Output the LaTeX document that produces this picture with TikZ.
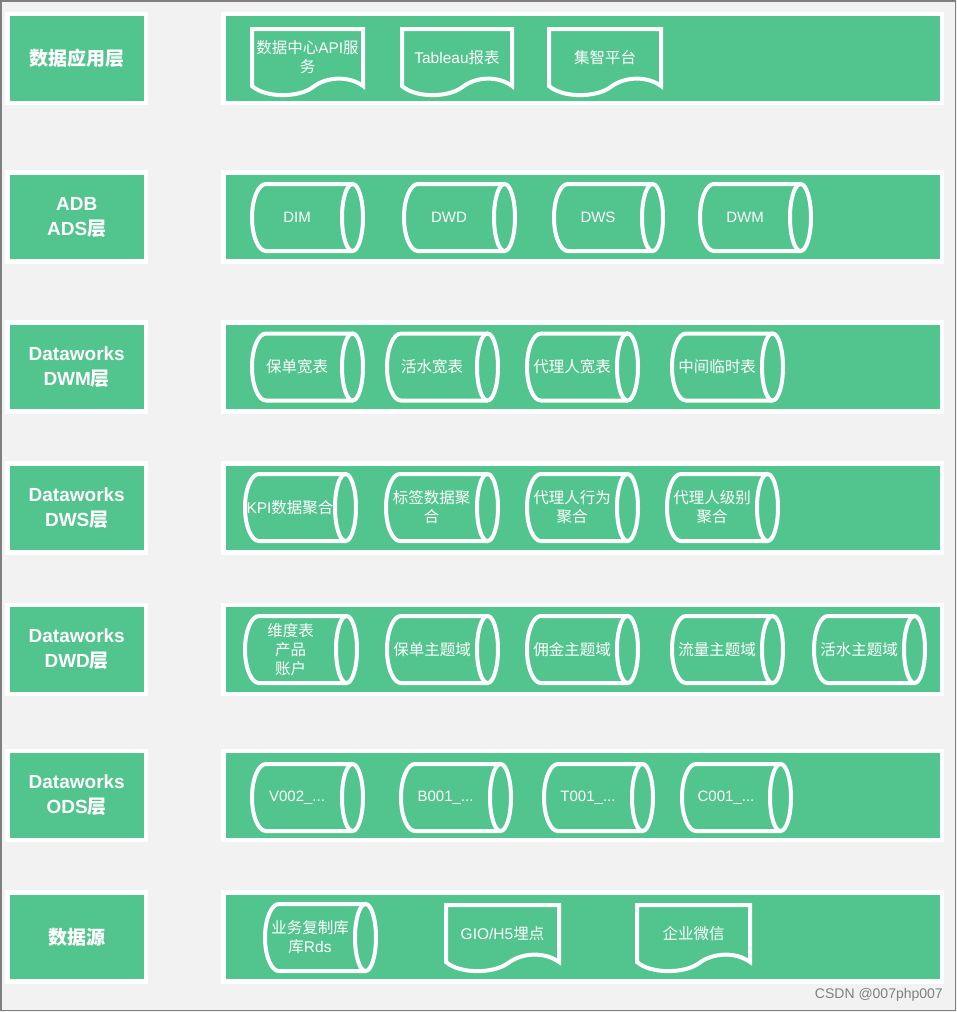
\documentclass[tikz,border=0pt]{standalone}
\usepackage{fontspec}
\setmainfont{Liberation Sans}
\newfontfamily\cjk{Noto Sans CJK SC}
\newcommand\zh[1]{{\cjk #1}}
\definecolor{dgreen}{HTML}{52C48D}
\definecolor{bgray}{HTML}{F2F2F2}
\definecolor{edgegray}{HTML}{7F7F7F}
\def\rxl{14}
\def\rxr{10.5}
\def\ry{33.5}
\newcommand\cyl[5]{%
  \draw[shapeline] ({#3-2-\rxr},{#4-\ry}) -- ({#2+2+\rxl},{#4-\ry})
     arc[start angle=270,end angle=90,x radius=\rxl,y radius=\ry] -- ({#3-2-\rxr},{#4+\ry});
  \draw[shapeline] ({#3-2-\rxr},#4) ellipse[x radius=\rxr,y radius=\ry];
  \node[shapetext] (#1) at ({(#2+#3-2*\rxr)/2},#4) {#5};
}
\newcommand\docu[6]{%
  \pgfmathsetmacro\dL{#2+2}\pgfmathsetmacro\dR{#3-2}%
  \pgfmathsetmacro\dT{#4+2}\pgfmathsetmacro\dB{#5-2}%
  \pgfmathsetmacro\dW{\dR-\dL}\pgfmathsetmacro\dM{\dL+0.55*\dW}%
  \draw[shapeline] (\dL,\dB) -- (\dL,\dT) -- (\dR,\dT) -- (\dR,\dB)
     .. controls ({\dR-0.12*\dW},{\dB-10}) and ({\dM+0.13*\dW},{\dB-10}) .. (\dM,{\dB+1})
     .. controls ({\dM-0.13*\dW},{\dB+12}) and ({\dL+0.12*\dW},{\dB+12}) .. (\dL,\dB) -- cycle;
  \node[shapetext] (#1) at ({(\dL+\dR)/2},{(\dT+\dB)/2}) {#6};
}
\tikzset{
  panel/.style={fill=dgreen, draw=white, line width=4.5pt, minimum height=89pt, inner sep=0pt},
  lpanel/.style={panel, minimum width=138.5pt, text=white, align=center,
     font=\fontsize{19}{25}\selectfont\bfseries},
  rpanel/.style={panel, minimum width=718.5pt},
  shapeline/.style={draw=white, line width=4pt},
  shapetext/.style={text=white, align=center, inner sep=0pt,
     font=\fontsize{15.5}{19}\selectfont},
}
\begin{document}
\begin{tikzpicture}[x=1pt,y=-1pt]
\useasboundingbox (0,0) rectangle (957,1012);
\fill[bgray] (0,0) rectangle (957,1012);
\draw[edgegray, line width=1.5pt] (0.75,0.75) rectangle (955.5,1010.5);

% left labels
\node[lpanel] (l1) at (76.75,58.5) {\zh{数据应用层}};
\node[lpanel] (l2) at (76.75,217) {ADB\\ADS\zh{层}};
\node[lpanel] (l3) at (76.75,367) {Dataworks\\DWM\zh{层}};
\node[lpanel] (l4) at (76.75,508) {Dataworks\\DWS\zh{层}};
\node[lpanel] (l5) at (76.75,649.5) {Dataworks\\DWD\zh{层}};
\node[lpanel] (l6) at (76.75,795.5) {Dataworks\\ODS\zh{层}};
\node[lpanel] (l7) at (76.75,937) {\zh{数据源}};

% right panels
\node[rpanel] (r1) at (582.75,58.5) {};
\node[rpanel] (r2) at (582.75,217) {};
\node[rpanel] (r3) at (582.75,367) {};
\node[rpanel] (r4) at (582.75,508) {};
\node[rpanel] (r5) at (582.75,649.5) {};
\node[rpanel] (r6) at (582.75,795.5) {};
\node[rpanel] (r7) at (582.75,937) {};

% row 1: documents
\docu{a1}{250}{365}{27}{88}{\zh{数据中心}API\zh{服}\\\zh{务}}
\docu{a2}{400}{514}{27}{88}{Tableau\zh{报表}}
\docu{a3}{547}{663}{27}{88}{\zh{集智平台}}

% row 2
\cyl{b1}{250}{365}{217.5}{\fontsize{15}{19}\selectfont DIM}
\cyl{b2}{402}{517}{217.5}{\fontsize{15}{19}\selectfont DWD}
\cyl{b3}{552}{665}{217.5}{\fontsize{15}{19}\selectfont DWS}
\cyl{b4}{698}{813}{217.5}{\fontsize{15}{19}\selectfont DWM}

% row 3
\cyl{c1}{250}{365}{367}{\zh{保单宽表}}
\cyl{c2}{385}{500}{367}{\zh{活水宽表}}
\cyl{c3}{525}{640}{367}{\zh{代理人宽表}}
\cyl{c4}{670}{785}{367}{\zh{中间临时表}}

% row 4
\cyl{d1}{243}{358}{507.5}{KPI\zh{数据聚合}}
\cyl{d2}{384}{500}{507.5}{\zh{标签数据聚}\\\zh{合}}
\cyl{d3}{525}{640}{507.5}{\zh{代理人行为}\\\zh{聚合}}
\cyl{d4}{665}{780}{507.5}{\zh{代理人级别}\\\zh{聚合}}

% row 5
\cyl{e1}{243}{359}{649.5}{\zh{维度表}\\\zh{产品}\\\zh{账户}}
\cyl{e2}{385}{500}{649.5}{\zh{保单主题域}}
\cyl{e3}{525}{640}{649.5}{\zh{佣金主题域}}
\cyl{e4}{670}{785}{649.5}{\zh{流量主题域}}
\cyl{e5}{812}{927}{649.5}{\zh{活水主题域}}

% row 6
\cyl{f1}{250}{365}{797.5}{\fontsize{15}{19}\selectfont V002\_...}
\cyl{f2}{399}{513}{797.5}{\fontsize{15}{19}\selectfont B001\_...}
\cyl{f3}{542}{655}{797.5}{\fontsize{15}{19}\selectfont T001\_...}
\cyl{f4}{680}{793}{797.5}{\fontsize{15}{19}\selectfont C001\_...}

% row 7
\cyl{g1}{263}{378}{937.5}{\zh{业务复制库}\\\zh{库}Rds}
\docu{g2}{444}{561}{903}{964}{GIO/H5\zh{埋点}}
\docu{g3}{635}{752}{903}{964}{\zh{企业微信}}

\node[text=gray, font=\fontsize{14}{16}\selectfont, anchor=east, inner sep=0pt] (wm) at (943,995) {CSDN @007php007};
\end{tikzpicture}
\end{document}
